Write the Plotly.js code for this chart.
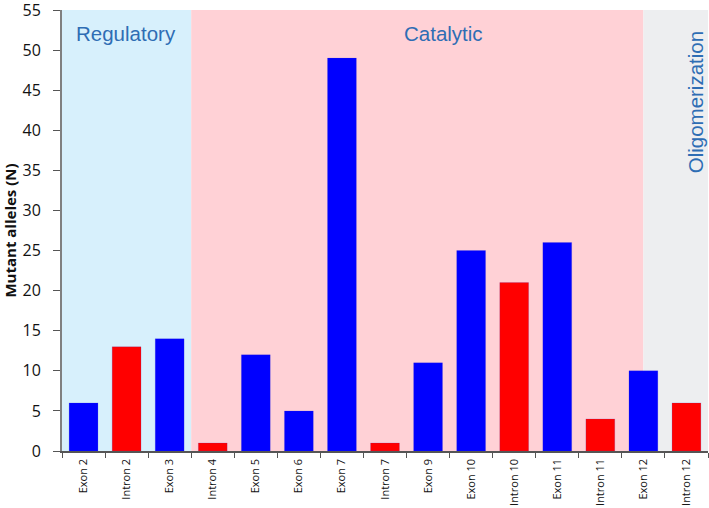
<!DOCTYPE html>
<html>
<head>
<meta charset="utf-8">
<script src="https://cdn.plot.ly/plotly-3.0.1.min.js"></script>
<style>html,body{margin:0;padding:0;background:#fff;}#chart{width:709px;height:508px;}</style>
</head>
<body>
<div id="chart"></div>
<script>
const categories = ["Exon 2","Intron 2","Exon 3","Intron 4","Exon 5","Exon 6","Exon 7","Intron 7","Exon 9","Exon 10","Intron 10","Exon 11","Intron 11","Exon 12","Intron 12"];
const values = [6,13,14,1,12,5,49,1,11,25,21,26,4,10,6];
const barColors = ["#0000FF","#FF0000","#0000FF","#FF0000","#0000FF","#0000FF","#0000FF","#FF0000","#0000FF","#0000FF","#FF0000","#0000FF","#FF0000","#0000FF","#FF0000"];
const yTicks = [0,5,10,15,20,25,30,35,40,45,50,55];
const regionNames = ["Regulatory","Catalytic","Oligomerization"];
const regionStart = [-0.5, 2.5, 13];
const regionEnd = [2.5, 13, 14.5];
const regionFill = ["#D7F0FC","#FFD1D6","#EDEEF0"];

const shapes = regionNames.map((n,i)=>({
  type:"rect", xref:"x", yref:"paper", x0:regionStart[i], x1:regionEnd[i], y0:0, y1:1,
  fillcolor:regionFill[i], line:{width:0}, layer:"below"
}));

const annFont = {family:"Liberation Sans, Arial, sans-serif", size:20.5, color:"#2E6DB4"};
const annotations = [
  {x:0.99, y:52.1, xref:"x", yref:"y", text:regionNames[0], showarrow:false, font:annFont},
  {x:8.35, y:52.1, xref:"x", yref:"y", text:regionNames[1], showarrow:false, font:annFont},
  {x:14.2, y:43.5, xref:"x", yref:"y", text:regionNames[2], showarrow:false, textangle:-90, font:annFont}
];

const trace = {
  type:"bar", x:categories, y:values,
  marker:{color:barColors, line:{color:"rgba(60,60,200,0.35)", width:0.5}},
  width:0.67, hoverinfo:"x+y"
};

const layout = {
  width:709, height:508,
  margin:{l:62, r:1, t:10, b:57},
  paper_bgcolor:"#fff", plot_bgcolor:"rgba(0,0,0,0)",
  showlegend:false,
  shapes:shapes, annotations:annotations,
  xaxis:{
    type:"category", range:[-0.5,14.5], tickangle:-90,
    tickson:"boundaries", ticks:"outside", ticklen:5, tickcolor:"#555",
    showline:true, linecolor:"#555", linewidth:1.5,
    showgrid:false, zeroline:false, ticklabelstandoff:2,
    tickfont:{family:"Open Sans, Liberation Sans, sans-serif", size:11, color:"#111"}
  },
  yaxis:{
    range:[0,55], tickmode:"array", tickvals:yTicks, ticktext:yTicks.map(String),
    ticks:"outside", ticklen:7, tickcolor:"#555", ticklabeloverflow:"allow",
    showline:true, linecolor:"#808080", linewidth:2,
    showgrid:false, zeroline:false, ticklabelstandoff:9,
    tickfont:{family:"Open Sans, Liberation Sans, sans-serif", size:16, color:"#111"},
    title:{text:"<b>Mutant alleles (N)</b>", standoff:3, font:{family:"Open Sans, Liberation Sans, sans-serif", size:15, color:"#111"}}
  }
};

Plotly.newPlot("chart", [trace], layout, {displayModeBar:false, staticPlot:true});
</script>
</body>
</html>
